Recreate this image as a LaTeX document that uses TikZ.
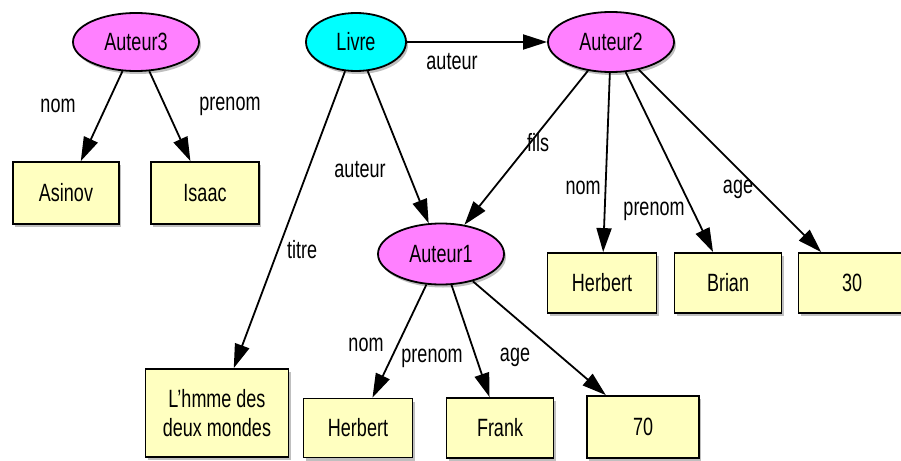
\documentclass[tikz,border=0pt]{standalone}
\usepackage{fontspec}
\setmainfont{Liberation Sans}[FakeStretch=0.72]
\usetikzlibrary{arrows.meta,shapes.geometric,shadows}
\definecolor{classe}{HTML}{FF80FF}
\definecolor{livre}{HTML}{00FFFF}
\definecolor{valeur}{HTML}{FFFFC0}
\begin{document}
\begin{tikzpicture}[x=1pt, y=-1pt, font=\fontsize{25}{29}\selectfont,
	ombre/.style={drop shadow={shadow xshift=2pt, shadow yshift=-3pt, opacity=0.25, fill=black}},
	ressource/.style={ellipse, draw, line width=1.8pt, fill=classe, minimum width=126pt, minimum height=58pt, inner sep=0pt, ombre},
	litteral/.style={rectangle, draw, line width=1.8pt, fill=valeur, minimum width=108pt, minimum height=60pt, inner sep=0pt, ombre},
	fleche/.style={-{Triangle[length=24pt, width=15pt]}, line width=1.8pt},
	etiq/.style={inner sep=0pt}]
	
	\useasboundingbox (0,0) rectangle (901,460);
	\node[ressource] (a3) at (136,42) {Auteur3};
	\node[ressource, fill=livre, minimum width=100pt] (livre) at (356,42) {Livre};
	\node[ressource, minimum height=60pt] (a2) at (611,42) {Auteur2};
	\node[ressource, minimum height=61pt] (a1) at (441,254) {Auteur1};
	
	\node[litteral, minimum width=106pt, minimum height=62pt] (asinov) at (66,193) {Asinov};
	\node[litteral, minimum height=62pt] (isaac) at (205,193) {Isaac};
	\node[litteral, minimum width=109pt] (herbert2) at (602,283) {Herbert};
	\node[litteral, minimum width=107pt] (brian) at (728,283) {Brian};
	\node[litteral, minimum width=107pt] (trente) at (852,283) {30};
	\node[litteral, minimum width=143pt, minimum height=88pt, align=center] (titre) at (217,413) {L’hmme des\\deux mondes};
	\node[litteral, minimum width=109pt, minimum height=59pt] (herbert1) at (358,428) {Herbert};
	\node[litteral, minimum width=107pt, minimum height=60pt] (frank) at (500,428) {Frank};
	\node[litteral, minimum width=112pt, minimum height=62pt] (septante) at (643,427) {70};
	
	\draw[fleche] (a3) -- (asinov);
	\draw[fleche] (a3) -- (isaac);
	\draw[fleche] (livre) -- (a2);
	\draw[fleche] (livre) -- (a1);
	\draw[fleche] (livre) -- (titre);
	\draw[fleche] (a2) -- (a1);
	\draw[fleche] (a2) -- (herbert2);
	\draw[fleche] (a2) -- (brian);
	\draw[fleche] (a2) -- (trente);
	\draw[fleche] (a1) -- (herbert1);
	\draw[fleche] (a1) -- (frank);
	\draw[fleche] (a1) -- (septante);
	
	\node[etiq] (l-nom3) at (58,106) {nom};
	\node[etiq] (l-prenom3) at (230,106) {prenom};
	\node[etiq] (l-auteur2) at (452,62) {auteur};
	\node[etiq] (l-auteur1) at (360,170) {auteur};
	\node[etiq] (l-titre) at (302,250) {titre};
	\node[etiq] (l-fils) at (538,143) {fils};
	\node[etiq] (l-nom2) at (583,188) {nom};
	\node[etiq] (l-prenom2) at (654,211) {prenom};
	\node[etiq] (l-age2) at (738,189) {age};
	\node[etiq] (l-nom1) at (366,345) {nom};
	\node[etiq] (l-prenom1) at (432,358) {prenom};
	\node[etiq] (l-age1) at (515,357) {age};
\end{tikzpicture}
\end{document}
